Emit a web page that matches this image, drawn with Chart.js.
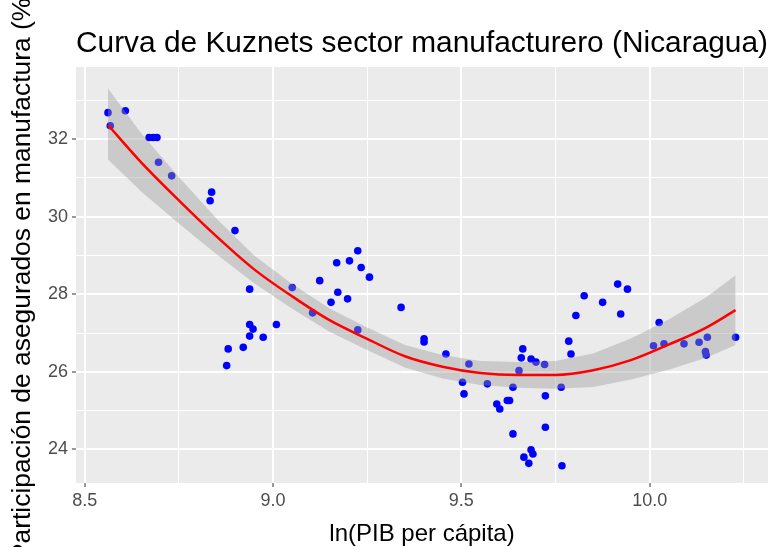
<!DOCTYPE html>
<html lang="es">
<head>
<meta charset="UTF-8">
<title>Curva de Kuznets sector manufacturero (Nicaragua)</title>
<script src="https://cdn.jsdelivr.net/npm/chart.js"></script>
<style>
    body { margin: 0; background: #ffffff; }
    #wrap { width: 772px; height: 547px; }
</style>
</head>
<body>
<div id="wrap"><canvas id="kuznets" width="772" height="547"></canvas></div>
<script>
// observaciones: ln(PIB per capita) y participacion (%)
const lnPib = [
    8.562, 8.568, 8.608, 8.671, 8.682, 8.692, 8.696, 8.731, 8.837, 8.833,
    8.899, 8.938, 9.051, 8.938, 8.947, 8.938, 8.974, 9.009, 8.881, 8.921,
    8.877, 9.105, 9.124, 9.154, 9.172, 9.169, 9.198, 9.203, 9.225, 9.234,
    9.256, 9.225, 9.340, 9.401, 9.401, 9.459, 9.520, 9.503, 9.507, 9.569,
    9.594, 9.602, 9.622, 9.628, 9.637, 9.637, 9.653, 9.663, 9.659, 9.685,
    9.698, 9.721, 9.723, 9.723, 9.685, 9.690, 9.666, 9.679, 9.767, 9.765,
    9.785, 9.791, 9.804, 9.826, 9.875, 9.915, 9.941, 9.923, 10.025, 10.010,
    10.038, 10.091, 10.131, 10.153, 10.148, 10.150, 10.228
];
const participacion = [
    32.68, 32.34, 32.73, 32.04, 32.04, 32.04, 31.40, 31.05, 30.63, 30.41,
    29.64, 28.13, 28.17, 27.22, 27.10, 26.92, 26.89, 27.22, 26.59, 26.63,
    26.16, 27.52, 28.35, 27.79, 28.05, 28.81, 27.88, 28.86, 29.12, 28.69,
    28.44, 27.08, 27.66, 26.85, 26.77, 26.46, 26.20, 25.73, 25.43, 25.69,
    25.17, 25.04, 25.26, 25.26, 25.60, 24.40, 26.03, 26.59, 26.36, 26.33,
    26.25, 26.19, 25.38, 24.57, 23.99, 23.88, 23.80, 23.64, 23.58, 25.60,
    26.79, 26.46, 27.45, 27.96, 27.79, 28.26, 28.13, 27.49, 27.27, 26.67,
    26.72, 26.72, 26.76, 26.89, 26.52, 26.43, 26.89
];

// curva ajustada (cuadratica) y banda de confianza
const ajusteX = [8.562, 8.65, 8.75, 8.85, 8.95, 9.05, 9.15, 9.25, 9.35, 9.45,
                 9.55, 9.65, 9.75, 9.85, 9.95, 10.05, 10.15, 10.228];
const ajusteY = [32.36, 31.40, 30.42, 29.49, 28.64, 27.95, 27.33, 26.85, 26.40, 26.13,
                 25.97, 25.92, 25.92, 26.04, 26.30, 26.70, 27.14, 27.59];
const bandaInf = [31.47, 30.65, 29.82, 29.03, 28.28, 27.63, 27.03, 26.56, 26.11, 25.83,
                  25.66, 25.59, 25.56, 25.61, 25.80, 26.05, 26.36, 26.69];
const bandaSup = [33.30, 32.15, 31.02, 29.95, 29.00, 28.27, 27.63, 27.14, 26.69, 26.43,
                  26.28, 26.25, 26.28, 26.47, 26.86, 27.35, 27.92, 28.49];

// ejes
const xTicks = [8.5, 8.75, 9.0, 9.25, 9.5, 9.75, 10.0, 10.25];
const xLabels = {8.5: '8.5', 9: '9.0', 9.5: '9.5', 10: '10.0'};
const yTicks = [23, 24, 25, 26, 27, 28, 29, 30, 31, 32, 33];
const yLabels = {24: '24', 26: '26', 28: '28', 30: '30', 32: '32'};

const pares = (xs, ys) => xs.map((x, i) => ({x: x, y: ys[i]}));
const esMayor = (labels, v) => labels[v] !== undefined;

// fondo gris del panel
const fondoPanel = {
    id: 'fondoPanel',
    beforeDraw(chart) {
        const a = chart.chartArea;
        const ctx = chart.ctx;
        ctx.save();
        ctx.fillStyle = '#EBEBEB';
        ctx.fillRect(a.left, a.top, a.right - a.left, a.bottom - a.top);
        ctx.restore();
    }
};

const fuente = "'Liberation Sans', Arial, sans-serif";

function ejeGgplot(ticks, labels) {
    return {
        type: 'linear',
        afterBuildTicks: s => { s.ticks = ticks.map(v => ({value: v})); },
        ticks: {
            color: '#4D4D4D',
            font: {family: fuente, size: 18},
            padding: 3,
            maxRotation: 0,
            autoSkip: false,
            callback: v => labels[v] !== undefined ? labels[v] : ''
        },
        grid: {
            color: '#FFFFFF',
            lineWidth: c => esMayor(labels, c.tick.value) ? 2 : 1,
            drawTicks: true,
            tickLength: 4,
            tickWidth: 1,
            tickColor: c => esMayor(labels, c.tick.value) ? '#333333' : 'rgba(0,0,0,0)'
        },
        border: {display: false}
    };
}

const ejeX = ejeGgplot(xTicks, xLabels);
ejeX.min = 8.477;
ejeX.max = 10.314;
ejeX.afterFit = s => { s.height = 64; };
ejeX.title = {
    display: true,
    text: 'ln(PIB per cápita)',
    color: '#000000',
    font: {family: fuente, size: 24, lineHeight: 1},
    padding: {top: 0, bottom: 1}
};

const ejeY = ejeGgplot(yTicks, yLabels);
ejeY.min = 23.134;
ejeY.max = 33.856;
ejeY.ticks.padding = 4;
ejeY.afterFit = s => { s.width = 76; };
ejeY.title = {
    display: true,
    text: 'Participación de asegurados en manufactura (%)',
    color: '#000000',
    font: {family: fuente, size: 26.4, lineHeight: 1},
    padding: {top: 10, bottom: 0}
};

new Chart(document.getElementById('kuznets'), {
    type: 'scatter',
    data: {
        datasets: [
            {
                label: 'IC superior',
                data: pares(ajusteX, bandaSup),
                showLine: true,
                pointRadius: 0,
                borderWidth: 0,
                borderColor: 'rgba(0,0,0,0)',
                backgroundColor: 'rgba(153,153,153,0.4)',
                fill: '+1',
                order: 2
            },
            {
                label: 'IC inferior',
                data: pares(ajusteX, bandaInf),
                showLine: true,
                pointRadius: 0,
                borderWidth: 0,
                borderColor: 'rgba(0,0,0,0)',
                fill: false,
                order: 2
            },
            {
                label: 'Ajuste',
                data: pares(ajusteX, ajusteY),
                showLine: true,
                pointRadius: 0,
                borderColor: '#FF0000',
                borderWidth: 2.5,
                cubicInterpolationMode: 'monotone',
                fill: false,
                order: 1
            },
            {
                label: 'Observaciones',
                data: pares(lnPib, participacion),
                pointRadius: 3.8,
                pointBackgroundColor: '#0000FF',
                pointBorderWidth: 0,
                order: 3
            }
        ]
    },
    options: {
        responsive: false,
        animation: false,
        layout: {padding: {left: 0, right: 2, top: 0, bottom: 0}},
        plugins: {
            legend: {display: false},
            tooltip: {enabled: false},
            title: {
                display: true,
                text: 'Curva de Kuznets sector manufacturero (Nicaragua)',
                color: '#000000',
                align: 'start',
                fullSize: false,
                font: {family: fuente, size: 30, weight: 'normal', lineHeight: 1},
                padding: {top: 29, bottom: 8}
            }
        },
        scales: {x: ejeX, y: ejeY}
    },
    plugins: [fondoPanel]
});
</script>
</body>
</html>
